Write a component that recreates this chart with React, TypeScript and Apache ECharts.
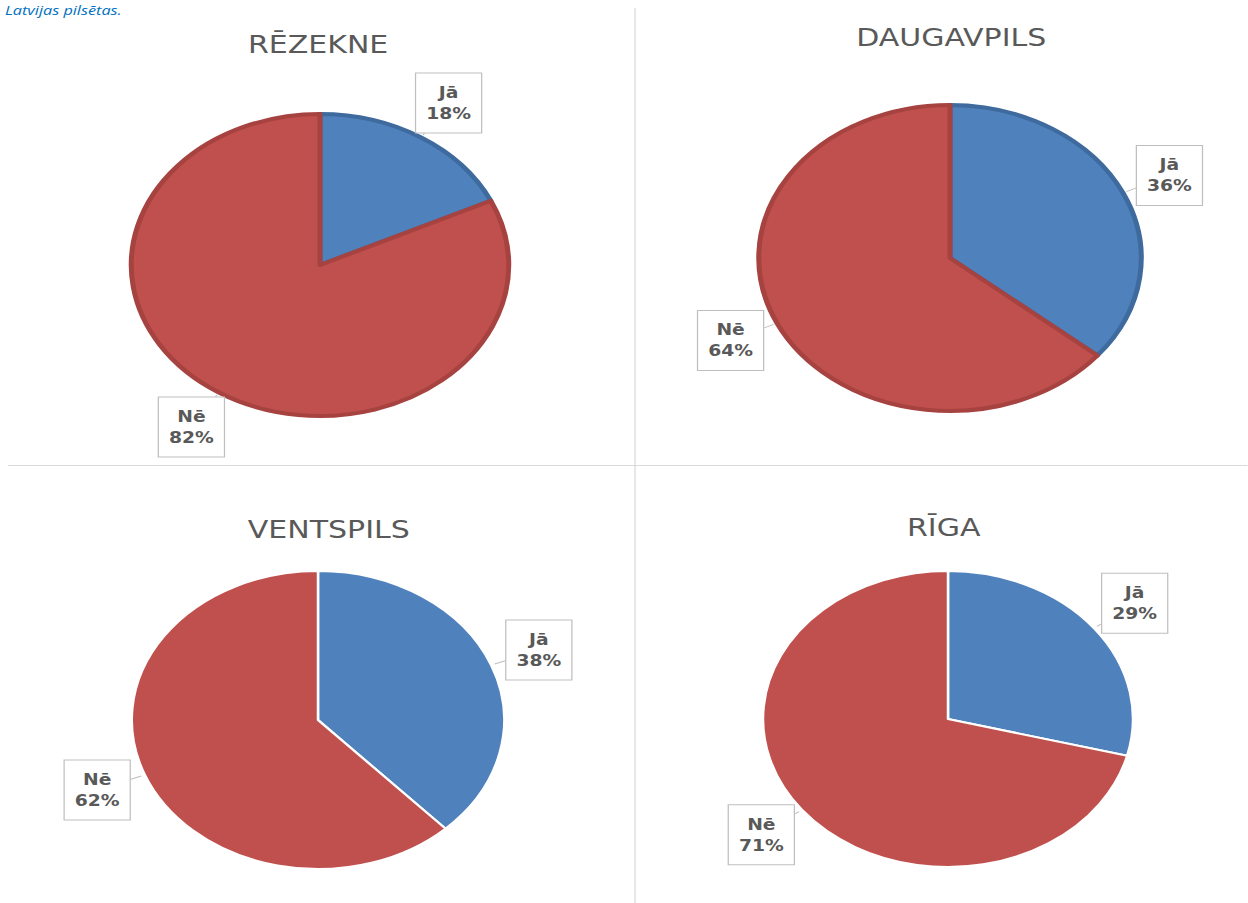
import React, { useEffect, useRef } from "react";
import * as echarts from "echarts";

const cities = ["RĒZEKNE", "DAUGAVPILS", "VENTSPILS", "RĪGA"];
const categories = ["Jā", "Nē"];
const jaValues = [18, 36, 38, 29];
const neValues = [82, 64, 62, 71];
const headerText = "Latvijas pilsētas.";

const SCALE_X = 1.25;
const W = 1248 / SCALE_X;
const H = 903;

const pies = [
  { cx: 256, cy: 265, r: 151, outlined: true },
  { cx: 760, cy: 258, r: 153, outlined: true },
  { cx: 254.4, cy: 720, r: 149, outlined: false },
  { cx: 758.4, cy: 719, r: 148, outlined: false },
];
const titlePos = [
  { x: 254.5, y: 45 },
  { x: 761, y: 38 },
  { x: 263, y: 530 },
  { x: 755, y: 528 },
];

const BLUE = "#4F81BD";
const RED = "#C0504D";
const BLUE_DARK = "#3E6A9E";
const RED_DARK = "#A6423F";
const TEXT = "#595959";

export default function App() {
  const ref = useRef<HTMLDivElement>(null);
  useEffect(() => {
    document.body.style.margin = "0";
    document.body.style.overflow = "hidden";
    const chart = echarts.init(ref.current!, undefined, { renderer: "svg" });
    const series = pies.map((p, i) => {
      const vals = [jaValues[i], neValues[i]];
      return {
        type: "pie",
        center: [p.cx, p.cy],
        radius: p.r,
        startAngle: 90,
        clockwise: true,
        avoidLabelOverlap: false,
        silent: true,
        emphasis: { disabled: true },
        label: {
          show: true,
          position: "outside",
          formatter: (q: any) => `${q.name}\n${q.percent}%`,
          color: TEXT,
          fontFamily: "DejaVu Sans",
          fontWeight: "bold",
          fontSize: 15,
          lineHeight: 21,
          align: "center",
          backgroundColor: "#ffffff",
          borderColor: "#bfbfbf",
          borderWidth: 1,
          padding: [9, 8, 8, 8],
        },
        labelLine: { show: true, lineStyle: { color: "#bfbfbf", width: 1 } },
        labelLayout: (params: any) => {
          const idx = params.dataIndex;
          const total = vals[0] + vals[1];
          let before = 0;
          for (let k = 0; k < idx; k++) before += vals[k];
          const mid = ((before + vals[idx] / 2) / total) * Math.PI * 2;
          const s = Math.sin(mid);
          const c = Math.cos(mid);
          const D = p.r + 41;
          const x = p.cx + D * s;
          const y = p.cy - D * c;
          const hw = params.labelRect.width / 2;
          const hh = params.labelRect.height / 2;
          const ext = Math.min(
            hw / Math.max(Math.abs(s), 1e-6),
            hh / Math.max(Math.abs(c), 1e-6)
          );
          const start = p.r + 3;
          const end = D - ext;
          const a = [p.cx + start * s, p.cy - start * c];
          const b = [p.cx + end * s, p.cy - end * c];
          return {
            x,
            y,
            align: "center",
            verticalAlign: "middle",
            labelLinePoints: [a, b, b],
          };
        },
        data: categories.map((name, k) => ({
          name,
          value: vals[k],
          itemStyle: {
            color: k === 0 ? BLUE : RED,
            borderColor: p.outlined ? (k === 0 ? BLUE_DARK : RED_DARK) : "#ffffff",
            borderWidth: p.outlined ? 4 : 2,
          },
        })),
      };
    });

    const graphic: any[] = [
      {
        type: "line",
        silent: true,
        shape: { x1: 508, y1: 8, x2: 508, y2: H },
        style: { stroke: "#d9d9d9", lineWidth: 1 },
      },
      {
        type: "line",
        silent: true,
        shape: { x1: 6.4, y1: 465.5, x2: W, y2: 465.5 },
        style: { stroke: "#d9d9d9", lineWidth: 1 },
      },
      {
        type: "text",
        silent: true,
        x: 4,
        y: 3,
        style: {
          text: headerText,
          align: "left",
          verticalAlign: "top",
          fill: "#0070C0",
          font: "italic 13px 'Open Sans'",
        },
      },
      ...cities.map((t, i) => ({
        type: "text",
        silent: true,
        x: titlePos[i].x,
        y: titlePos[i].y,
        style: {
          text: t,
          align: "center",
          verticalAlign: "middle",
          fill: TEXT,
          font: "24px 'DejaVu Sans'",
        },
      })),
    ];

    chart.setOption({
      animation: false,
      backgroundColor: "#ffffff",
      series,
      graphic,
    } as any);
    return () => chart.dispose();
  }, []);
  return (
    <div
      ref={ref}
      style={{
        position: "absolute",
        left: 0,
        top: 0,
        width: W,
        height: H,
        transform: `scaleX(${SCALE_X})`,
        transformOrigin: "0 0",
      }}
    />
  );
}
